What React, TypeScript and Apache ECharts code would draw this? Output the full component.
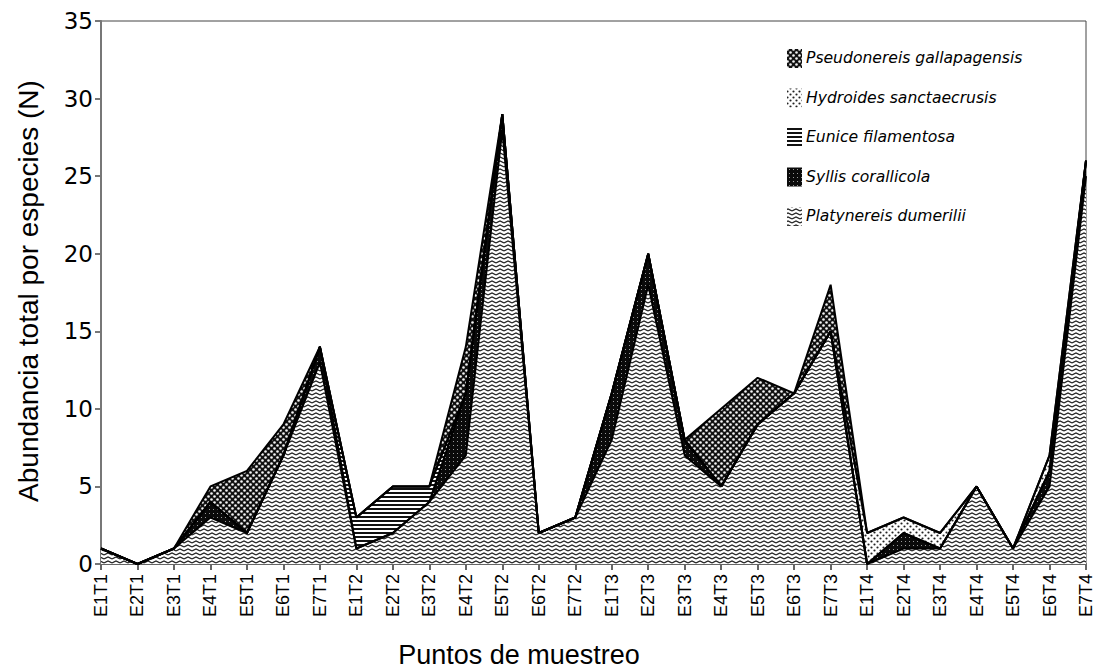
import React, { useEffect, useRef } from "react";
import * as echarts from "echarts";

const categories = [
  "E1T1", "E2T1", "E3T1", "E4T1", "E5T1", "E6T1", "E7T1",
  "E1T2", "E2T2", "E3T2", "E4T2", "E5T2", "E6T2", "E7T2",
  "E1T3", "E2T3", "E3T3", "E4T3", "E5T3", "E6T3", "E7T3",
  "E1T4", "E2T4", "E3T4", "E4T4", "E5T4", "E6T4", "E7T4",
];

// stacked bottom -> top
const platynereis = [1, 0, 1, 3, 2, 7, 13, 1, 2, 4, 7, 28, 2, 3, 8, 18, 7, 5, 9, 11, 15, 0, 1, 1, 5, 1, 5, 25];
const syllis = [0, 0, 0, 1, 0, 0, 1, 0, 0, 0, 4, 1, 0, 0, 3, 2, 1, 0, 0, 0, 0, 0, 1, 0, 0, 0, 1, 1];
const eunice = [0, 0, 0, 0, 0, 0, 0, 2, 3, 1, 0, 0, 0, 0, 0, 0, 0, 0, 0, 0, 0, 0, 0, 0, 0, 0, 0, 0];
const hydroides = [0, 0, 0, 0, 0, 0, 0, 0, 0, 0, 0, 0, 0, 0, 0, 0, 0, 0, 0, 0, 0, 2, 1, 1, 0, 0, 1, 0];
const pseudonereis = [0, 0, 0, 1, 4, 2, 0, 0, 0, 0, 3, 0, 0, 0, 0, 0, 0, 5, 3, 0, 3, 0, 0, 0, 0, 0, 0, 0];

const seriesNames = [
  "Platynereis dumerilii",
  "Syllis corallicola",
  "Eunice filamentosa",
  "Hydroides sanctaecrusis",
  "Pseudonereis gallapagensis",
];
const legendOrder = [
  "Pseudonereis gallapagensis",
  "Hydroides sanctaecrusis",
  "Eunice filamentosa",
  "Syllis corallicola",
  "Platynereis dumerilii",
];

const yTitle = "Abundancia total por especies (N)";
const xTitle = "Puntos de muestreo";

function makePattern(w: number, h: number, draw: (ctx: CanvasRenderingContext2D) => void) {
  const c = document.createElement("canvas");
  c.width = w;
  c.height = h;
  const ctx = c.getContext("2d") as CanvasRenderingContext2D;
  draw(ctx);
  return { image: c, repeat: "repeat", imageWidth: w, imageHeight: h } as any;
}

export default function App() {
  const ref = useRef<HTMLDivElement>(null);
  useEffect(() => {
    if (!ref.current) return;
    const chart = echarts.init(ref.current, undefined, { renderer: "svg" });

    const wave = makePattern(8, 4, (ctx) => {
      ctx.fillStyle = "#fff";
      ctx.fillRect(0, 0, 8, 4);
      ctx.strokeStyle = "#222";
      ctx.lineWidth = 1.3;
      ctx.beginPath();
      ctx.moveTo(0, 3);
      ctx.lineTo(4, 1);
      ctx.lineTo(8, 3);
      ctx.stroke();
    });
    const dark = makePattern(4, 4, (ctx) => {
      ctx.fillStyle = "#0a0a0a";
      ctx.fillRect(0, 0, 4, 4);
      ctx.fillStyle = "#999";
      ctx.fillRect(1, 1, 1, 1);
    });
    const lines = makePattern(4, 4, (ctx) => {
      ctx.fillStyle = "#fff";
      ctx.fillRect(0, 0, 4, 4);
      ctx.fillStyle = "#111";
      ctx.fillRect(0, 0, 4, 2);
    });
    const sparse = makePattern(6, 6, (ctx) => {
      ctx.fillStyle = "#fff";
      ctx.fillRect(0, 0, 6, 6);
      ctx.fillStyle = "#222";
      ctx.beginPath();
      ctx.arc(1.5, 1.5, 1.1, 0, Math.PI * 2);
      ctx.arc(4.5, 4.5, 1.1, 0, Math.PI * 2);
      ctx.fill();
    });
    const circles = makePattern(6, 6, (ctx) => {
      ctx.fillStyle = "#111";
      ctx.fillRect(0, 0, 6, 6);
      ctx.fillStyle = "#f4f4f4";
      ctx.beginPath();
      ctx.arc(1.5, 1.5, 1.3, 0, Math.PI * 2);
      ctx.fill();
      ctx.beginPath();
      ctx.arc(4.5, 4.5, 1.3, 0, Math.PI * 2);
      ctx.fill();
    });

    const patterns: Record<string, any> = {
      "Platynereis dumerilii": wave,
      "Syllis corallicola": dark,
      "Eunice filamentosa": lines,
      "Hydroides sanctaecrusis": sparse,
      "Pseudonereis gallapagensis": circles,
    };
    const values = [platynereis, syllis, eunice, hydroides, pseudonereis];

    const legendGraphics: any[] = [];
    legendOrder.forEach((name, i) => {
      const cy = 58 + i * 39.5;
      legendGraphics.push({
        type: "rect",
        shape: { x: 787, y: cy - 9, width: 15, height: 19 },
        style: { fill: patterns[name] },
      });
      legendGraphics.push({
        type: "text",
        x: 806,
        y: cy,
        style: {
          text: name,
          fontSize: 15.6,
          fontStyle: "italic",
          fontFamily: "DejaVu Sans",
          fill: "#000",
          textVerticalAlign: "middle",
          textAlign: "left",
        },
      });
    });

    chart.setOption({
      animation: false,
      backgroundColor: "#fff",
      grid: {
        left: 101,
        right: 19,
        top: 21,
        bottom: 108,
        show: true,
        borderColor: "#444",
        borderWidth: 1,
      },
      xAxis: {
        type: "category",
        boundaryGap: false,
        data: categories,
        axisLine: { lineStyle: { color: "#666", width: 2 } },
        axisTick: { show: true, length: 6, lineStyle: { color: "#666", width: 2 }, interval: 0 },
        axisLabel: {
          rotate: 90,
          interval: 0,
          fontSize: 18,
          fontFamily: "Liberation Sans, Arial",
          color: "#000",
          margin: 10,
        },
      },
      yAxis: {
        type: "value",
        min: 0,
        max: 35,
        interval: 5,
        splitLine: { show: false },
        axisLine: { show: true, lineStyle: { color: "#777", width: 2 } },
        axisTick: { show: true, length: 6, lineStyle: { color: "#777", width: 2 } },
        axisLabel: { fontSize: 23, fontFamily: "DejaVu Sans", color: "#000", margin: 8 },
      },
      graphic: [
        {
          type: "text",
          x: 28,
          y: 291,
          rotation: Math.PI / 2,
          style: {
            text: yTitle,
            fontSize: 28,
            fontFamily: "Liberation Sans, Arial",
            fill: "#000",
            textAlign: "center",
            textVerticalAlign: "middle",
          },
        },
        {
          type: "text",
          x: 519,
          y: 655,
          style: {
            text: xTitle,
            fontSize: 27,
            fontFamily: "Liberation Sans, Arial",
            fill: "#000",
            textAlign: "center",
            textVerticalAlign: "middle",
          },
        },
        ...legendGraphics,
      ],
      series: seriesNames.map((name, i) => ({
        name,
        type: "line",
        stack: "total",
        data: values[i],
        symbol: "none",
        lineStyle: { color: "#000", width: 2 },
        areaStyle: { color: patterns[name], opacity: 1 },
        z: 2,
      })),
    });
    return () => chart.dispose();
  }, []);
  return <div ref={ref} style={{ position: "absolute", left: 0, top: 0, width: 1105, height: 672 }} />;
}
